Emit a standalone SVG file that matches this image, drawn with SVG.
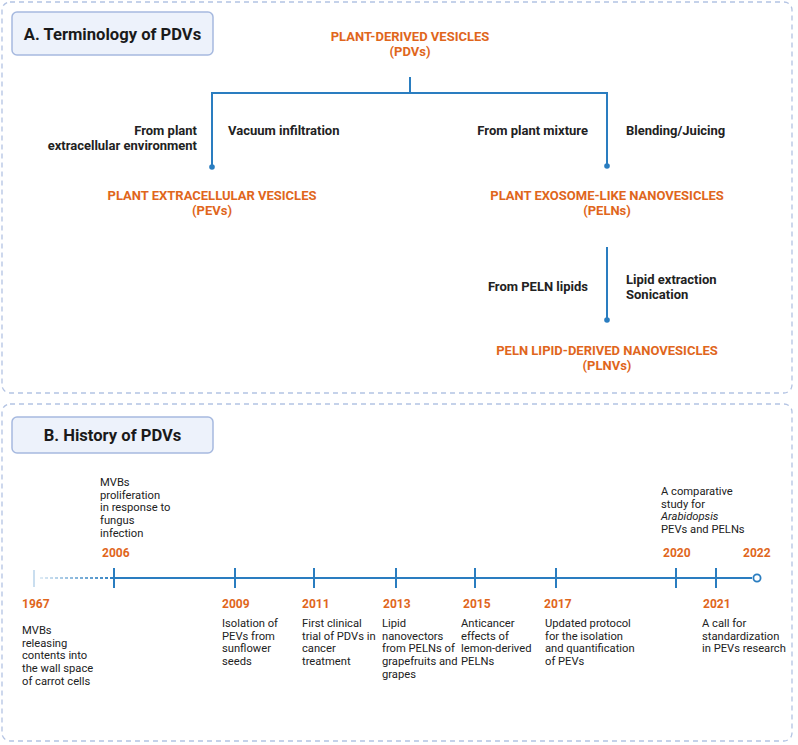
<svg xmlns="http://www.w3.org/2000/svg" width="798" height="745" viewBox="0 0 798 745">
<defs>
<linearGradient id="fade" gradientUnits="userSpaceOnUse" x1="40" y1="0" x2="114" y2="0">
<stop offset="0" stop-color="#2a7dc0" stop-opacity="0.15"/>
<stop offset="1" stop-color="#2a7dc0" stop-opacity="1"/>
</linearGradient>
<style>
text{font-family:Roboto,"Liberation Sans",sans-serif}
.panel{fill:#fff;stroke:#b3c3e3;stroke-width:1.3;stroke-dasharray:5 4}
.tbox{fill:#edf2fb;stroke:#a6b9df;stroke-width:1.5}
.title{font-size:16.6px;font-weight:bold;fill:#1a1a1a}
.org{font-size:13px;font-weight:bold;fill:#e0661c;text-anchor:middle}
.lab{font-size:13px;font-weight:bold;fill:#222}
.r{text-anchor:end}
.ln{fill:none;stroke:#2a7dc0;stroke-width:2}
.dot{fill:#2a7dc0}
.yr{font-size:12px;font-weight:bold;fill:#e0661c}
.d{font-size:11.2px;fill:#222}
</style>
</defs>
<rect width="798" height="745" fill="#fff"/>
<g id="panelA">
<rect class="panel" x="2" y="2" width="790" height="391" rx="8"/>
<rect class="tbox" x="12" y="12" width="201" height="43" rx="5"/>
<text class="title" x="112.5" y="40" text-anchor="middle">A. Terminology of PDVs</text>
</g>
<g id="connectors">
<path class="ln" d="M410 77V93M212 167V93H607V166"/>
<circle class="dot" cx="212" cy="167" r="2.8"/>
<circle class="dot" cx="607" cy="166" r="2.8"/>
<path class="ln" d="M607 247V320"/>
<circle class="dot" cx="607" cy="320" r="2.8"/>
</g>
<g id="node-pdvs">
<text class="org" x="410" y="41">PLANT-DERIVED VESICLES</text>
<text class="org" x="410" y="56">(PDVs)</text>
</g>
<g id="label-left">
<text class="lab r" x="197" y="135">From plant</text>
<text class="lab r" x="197" y="150">extracellular environment</text>
<text class="lab" x="228" y="135">Vacuum infiltration</text>
</g>
<g id="label-right">
<text class="lab r" x="588" y="135">From plant mixture</text>
<text class="lab" x="626" y="135">Blending/Juicing</text>
</g>
<g id="node-pevs">
<text class="org" x="212" y="200">PLANT EXTRACELLULAR VESICLES</text>
<text class="org" x="212" y="215">(PEVs)</text>
</g>
<g id="node-pelns">
<text class="org" x="607" y="200">PLANT EXOSOME-LIKE NANOVESICLES</text>
<text class="org" x="607" y="215">(PELNs)</text>
</g>
<g id="label-lipid">
<text class="lab r" x="588" y="291">From PELN lipids</text>
<text class="lab" x="626" y="284">Lipid extraction</text>
<text class="lab" x="626" y="299">Sonication</text>
</g>
<g id="node-plnvs">
<text class="org" x="607" y="355">PELN LIPID-DERIVED NANOVESICLES</text>
<text class="org" x="607" y="370">(PLNVs)</text>
</g>
<g id="panelB">
<rect class="panel" x="2" y="404" width="790" height="337" rx="8"/>
<rect class="tbox" x="12" y="417" width="201" height="36" rx="5"/>
<text class="title" x="112.5" y="441" text-anchor="middle">B. History of PDVs</text>
</g>
<g id="timeline">
<line x1="34" y1="570" x2="34" y2="587" stroke="#2a7dc0" stroke-opacity="0.25" stroke-width="2"/>
<line x1="40" y1="578" x2="114" y2="578" stroke="url(#fade)" stroke-width="2" stroke-dasharray="3 2"/>
<path class="ln" d="M114 578H752"/>
<circle cx="757" cy="578" r="3.6" fill="#fff" stroke="#2a7dc0" stroke-width="1.8"/>
<path class="ln" d="M114 568V588M235 568V588M314 568V588M396 568V588M475 568V588M556 568V588M676 568V588M716 568V588"/>
</g>
<g id="ev-1967">
<text class="yr" x="22" y="608">1967</text>
<text class="d" x="22" y="634">MVBs</text>
<text class="d" x="22" y="646.7">releasing</text>
<text class="d" x="22" y="659.4">contents into</text>
<text class="d" x="22" y="672.1">the wall space</text>
<text class="d" x="22" y="684.8">of carrot cells</text>
</g>
<g id="ev-2006">
<text class="yr" x="102" y="557">2006</text>
<text class="d" x="100" y="486">MVBs</text>
<text class="d" x="100" y="498.7">proliferation</text>
<text class="d" x="100" y="511.4">in response to</text>
<text class="d" x="100" y="524.1">fungus</text>
<text class="d" x="100" y="536.8">infection</text>
</g>
<g id="ev-2009">
<text class="yr" x="222" y="608">2009</text>
<text class="d" x="222" y="627">Isolation of</text>
<text class="d" x="222" y="639.7">PEVs from</text>
<text class="d" x="222" y="652.4">sunflower</text>
<text class="d" x="222" y="665.1">seeds</text>
</g>
<g id="ev-2011">
<text class="yr" x="302" y="608">2011</text>
<text class="d" x="302" y="627">First clinical</text>
<text class="d" x="302" y="639.7">trial of PDVs in</text>
<text class="d" x="302" y="652.4">cancer</text>
<text class="d" x="302" y="665.1">treatment</text>
</g>
<g id="ev-2013">
<text class="yr" x="383" y="608">2013</text>
<text class="d" x="382" y="627">Lipid</text>
<text class="d" x="382" y="639.7">nanovectors</text>
<text class="d" x="382" y="652.4">from PELNs of</text>
<text class="d" x="382" y="665.1">grapefruits and</text>
<text class="d" x="382" y="677.8">grapes</text>
</g>
<g id="ev-2015">
<text class="yr" x="463" y="608">2015</text>
<text class="d" x="461" y="627">Anticancer</text>
<text class="d" x="461" y="639.7">effects of</text>
<text class="d" x="461" y="652.4">lemon-derived</text>
<text class="d" x="461" y="665.1">PELNs</text>
</g>
<g id="ev-2017">
<text class="yr" x="544" y="608">2017</text>
<text class="d" x="545" y="627">Updated protocol</text>
<text class="d" x="545" y="639.7">for the isolation</text>
<text class="d" x="545" y="652.4">and quantification</text>
<text class="d" x="545" y="665.1">of PEVs</text>
</g>
<g id="ev-2020">
<text class="yr" x="663" y="557">2020</text>
<text class="d" x="661" y="495">A comparative</text>
<text class="d" x="661" y="507.7">study for</text>
<text class="d" x="661" y="520.4" font-style="italic">Arabidopsis</text>
<text class="d" x="661" y="533.1">PEVs and PELNs</text>
</g>
<g id="ev-2021">
<text class="yr" x="703" y="608">2021</text>
<text class="d" x="702" y="627">A call for</text>
<text class="d" x="702" y="639.7">standardization</text>
<text class="d" x="702" y="652.4">in PEVs research</text>
</g>
<g id="ev-2022">
<text class="yr" x="743" y="557">2022</text>
</g>
</svg>
